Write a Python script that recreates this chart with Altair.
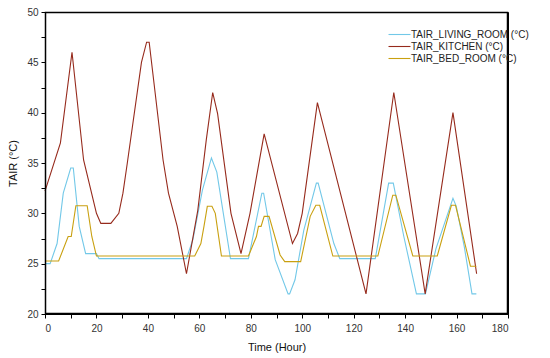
import altair as alt
import pandas as pd

# Kitchen
kitchen_h = [0, 6, 10.5, 15, 20, 21.7, 25.6, 28.7, 30.3, 32, 37.5, 39.5, 40.5, 45.9, 48, 51.4, 55,
             59.4, 62.7, 65.2, 67.1, 72.3, 76.2, 79.7, 82.2, 85.2, 96.2, 98.2, 100, 105.9, 124.8,
             135.6, 147.8, 158.6, 167.8]
kitchen_v = [32.2, 37, 46, 35.3, 30, 29, 29, 30, 32, 35, 45, 47, 47, 35.3, 32, 28.7, 24,
             30.3, 37.3, 42, 39.9, 30, 26, 30, 33.6, 37.9, 27, 28, 30, 41, 22,
             42, 22, 40, 24]

# Living room
living_h = [0, 2, 4.7, 7.1, 10, 11, 13.3, 15.8, 20, 21, 55, 57.5, 61.2, 64.7, 66.8, 72.1, 79.1,
            84.3, 85, 89.5, 94.5, 95.1, 97.2, 100.6, 105.5, 106.2, 112.3, 114.6, 128.4, 133.6,
            135.4, 139.5, 144.4, 147.9, 152, 158.6, 159.9, 163, 166, 167.7]
living_v = [25, 25, 27, 32, 34.5, 34.5, 28.7, 26, 26, 25.5, 25.5, 27.4, 32.3, 35.5, 34.1, 25.5, 25.5,
            32, 32, 25.4, 22, 22, 23.4, 28.3, 33, 33, 27, 25.5, 25.5, 33,
            33, 27.7, 22, 22, 26.5, 31.5, 30.7, 26.7, 22, 22]

# Bed room
bed_h = [0, 5.3, 9, 10.2, 12, 16.4, 18.2, 20, 58.2, 60.6, 61.8, 63.1, 64.9, 66.2, 68.6, 79.1,
         82.2, 83, 84, 85.2, 87.1, 91.4, 93.2, 99.4, 103.1, 105.3, 106.8, 111.9, 129.4, 135.2,
         136.4, 143, 152.5, 158, 159.6, 165.4, 167.7]
bed_v = [25.26, 25.26, 27.7, 27.7, 30.76, 30.76, 27.7, 25.76, 25.76, 27, 28.7, 30.7, 30.7, 30, 25.76, 25.76,
         27.7, 28.7, 28.7, 29.7, 29.7, 25.86, 25.2, 25.2, 29.7, 30.8, 30.8, 25.76, 25.76, 31.8,
         31.8, 25.76, 25.76, 30.8, 30.8, 24.75, 24.75]

series_names = ["TAIR_LIVING_ROOM (°C)", "TAIR_KITCHEN (°C)", "TAIR_BED_ROOM (°C)"]
series_colors = ["#72C8E8", "#962A1C", "#C9A010"]

x_domain = [0, 180]
y_domain = [20, 50]

rows = []
for name, hs, vs in [(series_names[0], living_h, living_v),
                     (series_names[1], kitchen_h, kitchen_v),
                     (series_names[2], bed_h, bed_v)]:
    for i, (h, v) in enumerate(zip(hs, vs)):
        rows.append({"series": name, "hour": h, "tair": v, "idx": i})
df = pd.DataFrame(rows)

x_ticks = list(range(0, 181, 10))
y_ticks = [20 + 2.5 * i for i in range(13)]

FONT = "Liberation Sans"
W, H = 463, 302

lines = alt.Chart(df).mark_line(strokeWidth=1.1).encode(
    x=alt.X("hour:Q", title="Time (Hour)",
            scale=alt.Scale(domain=x_domain, nice=False, zero=False),
            axis=alt.Axis(values=x_ticks, grid=False,
                          labelExpr="datum.value % 20 == 0 ? datum.label : ''",
                          tickSize=4, tickColor="black", domainColor="black",
                          labelFont=FONT, labelFontSize=10, labelColor="#333333",
                          labelPadding=5, labelOverlap=False,
                          titleFont=FONT, titleFontSize=11, titleFontWeight="normal",
                          titleColor="#111111", titlePadding=8)),
    y=alt.Y("tair:Q", title="TAIR (°C)",
            scale=alt.Scale(domain=y_domain, nice=False, zero=False),
            axis=alt.Axis(values=y_ticks, grid=False,
                          labelExpr="datum.value % 5 == 0 ? datum.label : ''",
                          tickSize=4, tickColor="black", domainColor="black",
                          labelFont=FONT, labelFontSize=10, labelColor="#333333",
                          labelPadding=3, labelOverlap=False,
                          titleFont=FONT, titleFontSize=11, titleFontWeight="normal",
                          titleColor="#111111", titlePadding=8)),
    color=alt.Color("series:N",
                    scale=alt.Scale(domain=series_names, range=series_colors),
                    legend=alt.Legend(title=None, orient="none", legendX=348, legendY=16,
                                      symbolType="M-2,0H2", symbolSize=121, symbolStrokeWidth=1.1,
                                      labelFont=FONT, labelFontSize=10, labelColor="#222222",
                                      rowPadding=0, labelOffset=5)),
    order="idx:Q",
)

# plot-area frame (top and right edges of the box)
one = pd.DataFrame({"a": [0]})
frame = alt.Chart(one).mark_rect(
    color="white", fillOpacity=0, stroke="#000000", strokeOpacity=1, strokeWidth=1.5
).encode(
    x=alt.value(0.5), x2=alt.value(W - 0.5), y=alt.value(0.5), y2=alt.value(H - 0.5),
)

chart = alt.layer(lines, frame).properties(
    width=W, height=H,
    background="white",
    autosize=alt.AutoSizeParams(type="none"),
    padding={"left": 37, "top": 4, "right": 34, "bottom": 44},
).configure_view(stroke="#000000", strokeWidth=1, strokeOpacity=1)

chart.save("out.html", embed_options={"renderer": "svg", "actions": False})
